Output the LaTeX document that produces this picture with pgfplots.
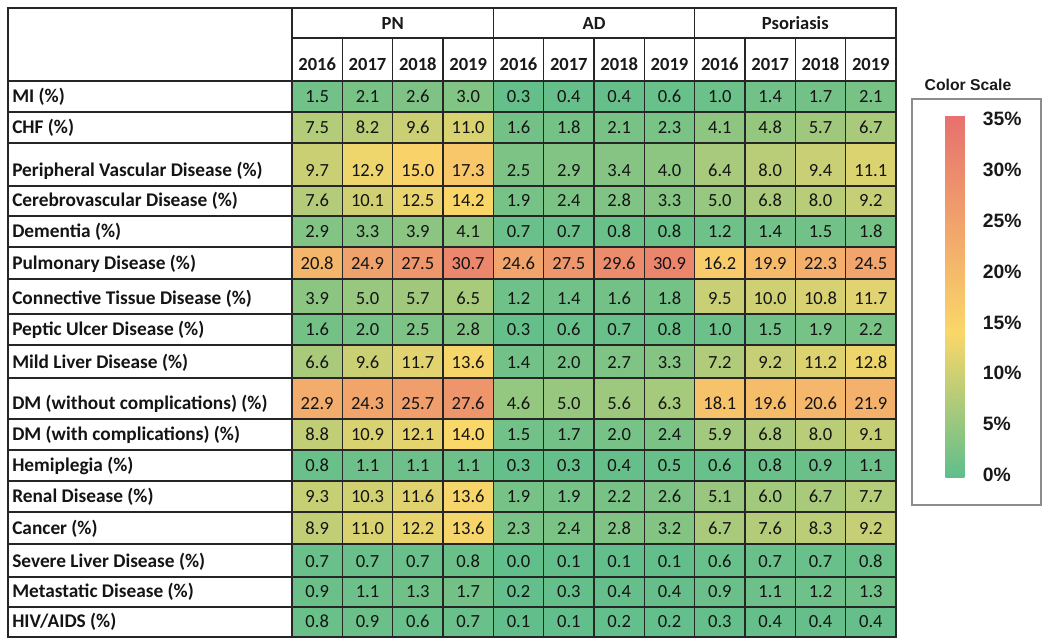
\documentclass[border=0pt]{standalone}
\usepackage{pgfplots}
\pgfplotsset{compat=1.18}
\usepackage{pgfplotstable}
\usepackage{fontspec}
\setmainfont{Carlito}
\newfontfamily\arialfont{Liberation Sans}

\pgfdeclareplotmark{cell}{%
  \pgfsetfillcolor{mapped color}%
  \pgfsetstrokecolor{black!85}%
  \pgfsetlinewidth{0.9pt}%
  \pgfpathrectangle{\pgfpoint{-18.875pt}{-11.625pt}}{\pgfpoint{37.75pt}{0.75pt*\cellh}}%
  \pgfusepathqfillstroke}

% top/bot = row boundaries (layout, px); c0..c11 = PN 2016-2019, AD 2016-2019, Psoriasis 2016-2019
\pgfplotstableread{
label top bot c0 c1 c2 c3 c4 c5 c6 c7 c8 c9 c10 c11
{MI (\%)} 81 112 1.5 2.1 2.6 3.0 0.3 0.4 0.4 0.6 1.0 1.4 1.7 2.1
{CHF (\%)} 112 143 7.5 8.2 9.6 11.0 1.6 1.8 2.1 2.3 4.1 4.8 5.7 6.7
{Peripheral Vascular Disease (\%)} 143 186 9.7 12.9 15.0 17.3 2.5 2.9 3.4 4.0 6.4 8.0 9.4 11.1
{Cerebrovascular Disease (\%)} 186 216 7.6 10.1 12.5 14.2 1.9 2.4 2.8 3.3 5.0 6.8 8.0 9.2
{Dementia (\%)} 216 247 2.9 3.3 3.9 4.1 0.7 0.7 0.8 0.8 1.2 1.4 1.5 1.8
{Pulmonary Disease (\%)} 247 279 20.8 24.9 27.5 30.7 24.6 27.5 29.6 30.9 16.2 19.9 22.3 24.5
{Connective Tissue Disease (\%)} 279 314 3.9 5.0 5.7 6.5 1.2 1.4 1.6 1.8 9.5 10.0 10.8 11.7
{Peptic Ulcer Disease (\%)} 314 345 1.6 2.0 2.5 2.8 0.3 0.6 0.7 0.8 1.0 1.5 1.9 2.2
{Mild Liver Disease (\%)} 345 378 6.6 9.6 11.7 13.6 1.4 2.0 2.7 3.3 7.2 9.2 11.2 12.8
{DM (without complications) (\%)} 378 419 22.9 24.3 25.7 27.6 4.6 5.0 5.6 6.3 18.1 19.6 20.6 21.9
{DM (with complications) (\%)} 419 450 8.8 10.9 12.1 14.0 1.5 1.7 2.0 2.4 5.9 6.8 8.0 9.1
{Hemiplegia (\%)} 450 481 0.8 1.1 1.1 1.1 0.3 0.3 0.4 0.5 0.6 0.8 0.9 1.1
{Renal Disease (\%)} 481 512 9.3 10.3 11.6 13.6 1.9 1.9 2.2 2.6 5.1 6.0 6.7 7.7
{Cancer (\%)} 512 544 8.9 11.0 12.2 13.6 2.3 2.4 2.8 3.2 6.7 7.6 8.3 9.2
{Severe Liver Disease (\%)} 544 577 0.7 0.7 0.7 0.8 0.0 0.1 0.1 0.1 0.6 0.7 0.7 0.8
{Metastatic Disease (\%)} 577 607 0.9 1.1 1.3 1.7 0.2 0.3 0.4 0.4 0.9 1.1 1.2 1.3
{HIV/AIDS (\%)} 607 637 0.8 0.9 0.6 0.7 0.1 0.1 0.2 0.2 0.3 0.4 0.4 0.4
}\comorb

\newcommand\tabfont{\fontsize{13.9}{16}\selectfont}
\newcommand\labfont{\fontsize{14.5}{16}\selectfont}

\begin{document}
\begin{tikzpicture}
\begin{axis}[
  x=0.75pt, y=0.75pt,
  xmin=0, xmax=1050, ymin=0, ymax=643, y dir=reverse,
  hide axis, clip=false,
  colormap={heat}{rgb255(0pt)=(94,190,140); rgb255(14pt)=(250,215,105); rgb255(35pt)=(231,112,110)},
  point meta min=-0.3, point meta max=35.4,
  colorbar,
  colorbar style={
    at={(700.5pt,123.75pt)}, anchor=south west,
    width=27.75pt, height=272.25pt, scale only axis,
    axis line style={draw=none}, major tick length=0pt, tick style={draw=none},
    ytick={0,5,10,15,20,25,30,35},
    yticklabels={0\%,5\%,10\%,15\%,20\%,25\%,30\%,35\%},
    yticklabel style={font=\arialfont\bfseries\fontsize{14.5}{16}\selectfont, xshift=-3.2pt, text=black!90},
  },
]
\path (axis cs:0,0) rectangle (axis cs:1050,643);

% coloured cells
\pgfplotsinvokeforeach{0,...,11}{
  \addplot[scatter, only marks, mark=cell,
    point meta=explicit,
    visualization depends on={\thisrow{bot}-\thisrow{top} \as \cellh},
    scatter/use mapped color={draw=black!85, fill=mapped color},
  ] table[x expr={292+50.333*(#1+0.5)}, y expr={\thisrow{bot}-15.5}, meta=c#1] {\comorb};
}
% cell values
\pgfplotsinvokeforeach{0,...,11}{
  \addplot[only marks, mark=none,
    point meta=explicit,
    nodes near coords={\pgfmathprintnumber[fixed,fixed zerofill,precision=1,assume math mode=true]{\pgfplotspointmeta}},
    nodes near coords style={anchor=center, inner sep=0pt, font=\tabfont, text=black!92},
  ] table[x expr={292+50.333*(#1+0.5)}, y expr={\thisrow{bot}-15.5}, meta=c#1] {\comorb};
}

\addplot[only marks, mark=none, point meta=explicit symbolic,
  nodes near coords,
  nodes near coords style={anchor=west, inner sep=0pt, font=\labfont\bfseries, text=black!92},
] table[x expr=12, y expr={\thisrow{bot}-15.5}, meta=label] {\comorb};

% header
\node[font=\tabfont\bfseries, text=black!90] at (axis cs:392.7,23) {PN};
\node[font=\tabfont\bfseries, text=black!90] at (axis cs:594,23) {AD};
\node[font=\tabfont\bfseries, text=black!90] at (axis cs:795.3,23) {Psoriasis};
\node[font=\tabfont\bfseries, text=black!90] at (axis cs:317.2,64) {2016};
\node[font=\tabfont\bfseries, text=black!90] at (axis cs:367.5,64) {2017};
\node[font=\tabfont\bfseries, text=black!90] at (axis cs:417.8,64) {2018};
\node[font=\tabfont\bfseries, text=black!90] at (axis cs:468.2,64) {2019};
\node[font=\tabfont\bfseries, text=black!90] at (axis cs:518.5,64) {2016};
\node[font=\tabfont\bfseries, text=black!90] at (axis cs:568.8,64) {2017};
\node[font=\tabfont\bfseries, text=black!90] at (axis cs:619.2,64) {2018};
\node[font=\tabfont\bfseries, text=black!90] at (axis cs:669.5,64) {2019};
\node[font=\tabfont\bfseries, text=black!90] at (axis cs:719.8,64) {2016};
\node[font=\tabfont\bfseries, text=black!90] at (axis cs:770.2,64) {2017};
\node[font=\tabfont\bfseries, text=black!90] at (axis cs:820.5,64) {2018};
\node[font=\tabfont\bfseries, text=black!90] at (axis cs:870.8,64) {2019};

% grid lines of the table
\draw[line width=0.9pt, black!85] (axis cs:8,8) rectangle (axis cs:896,637);
\draw[line width=0.9pt, black!85] (axis cs:292,8) -- (axis cs:292,637);
\draw[line width=0.9pt, black!85] (axis cs:493.3,8) -- (axis cs:493.3,81);
\draw[line width=0.9pt, black!85] (axis cs:694.7,8) -- (axis cs:694.7,81);
\draw[line width=0.9pt, black!85] (axis cs:292,38) -- (axis cs:896,38);
\draw[line width=0.9pt, black!85] (axis cs:8,81) -- (axis cs:896,81);
\pgfplotsinvokeforeach{342.3,392.7,443,543.7,594,644.3,745,795.3,845.7}{
  \draw[line width=0.9pt, black!85] (axis cs:#1,38) -- (axis cs:#1,81);
}
\pgfplotsinvokeforeach{112,143,186,216,247,279,314,345,378,419,450,481,512,544,577,607}{
  \draw[line width=0.9pt, black!85] (axis cs:8,#1) -- (axis cs:292,#1);
}

% colour scale box
\node[font=\arialfont\bfseries\fontsize{11.8}{14}\selectfont, text=black!90] at (axis cs:968,85) {Color Scale};
\draw[line width=0.8pt, black!45] (axis cs:912,99) rectangle (axis cs:1041,505);
\end{axis}
\end{tikzpicture}
\end{document}
